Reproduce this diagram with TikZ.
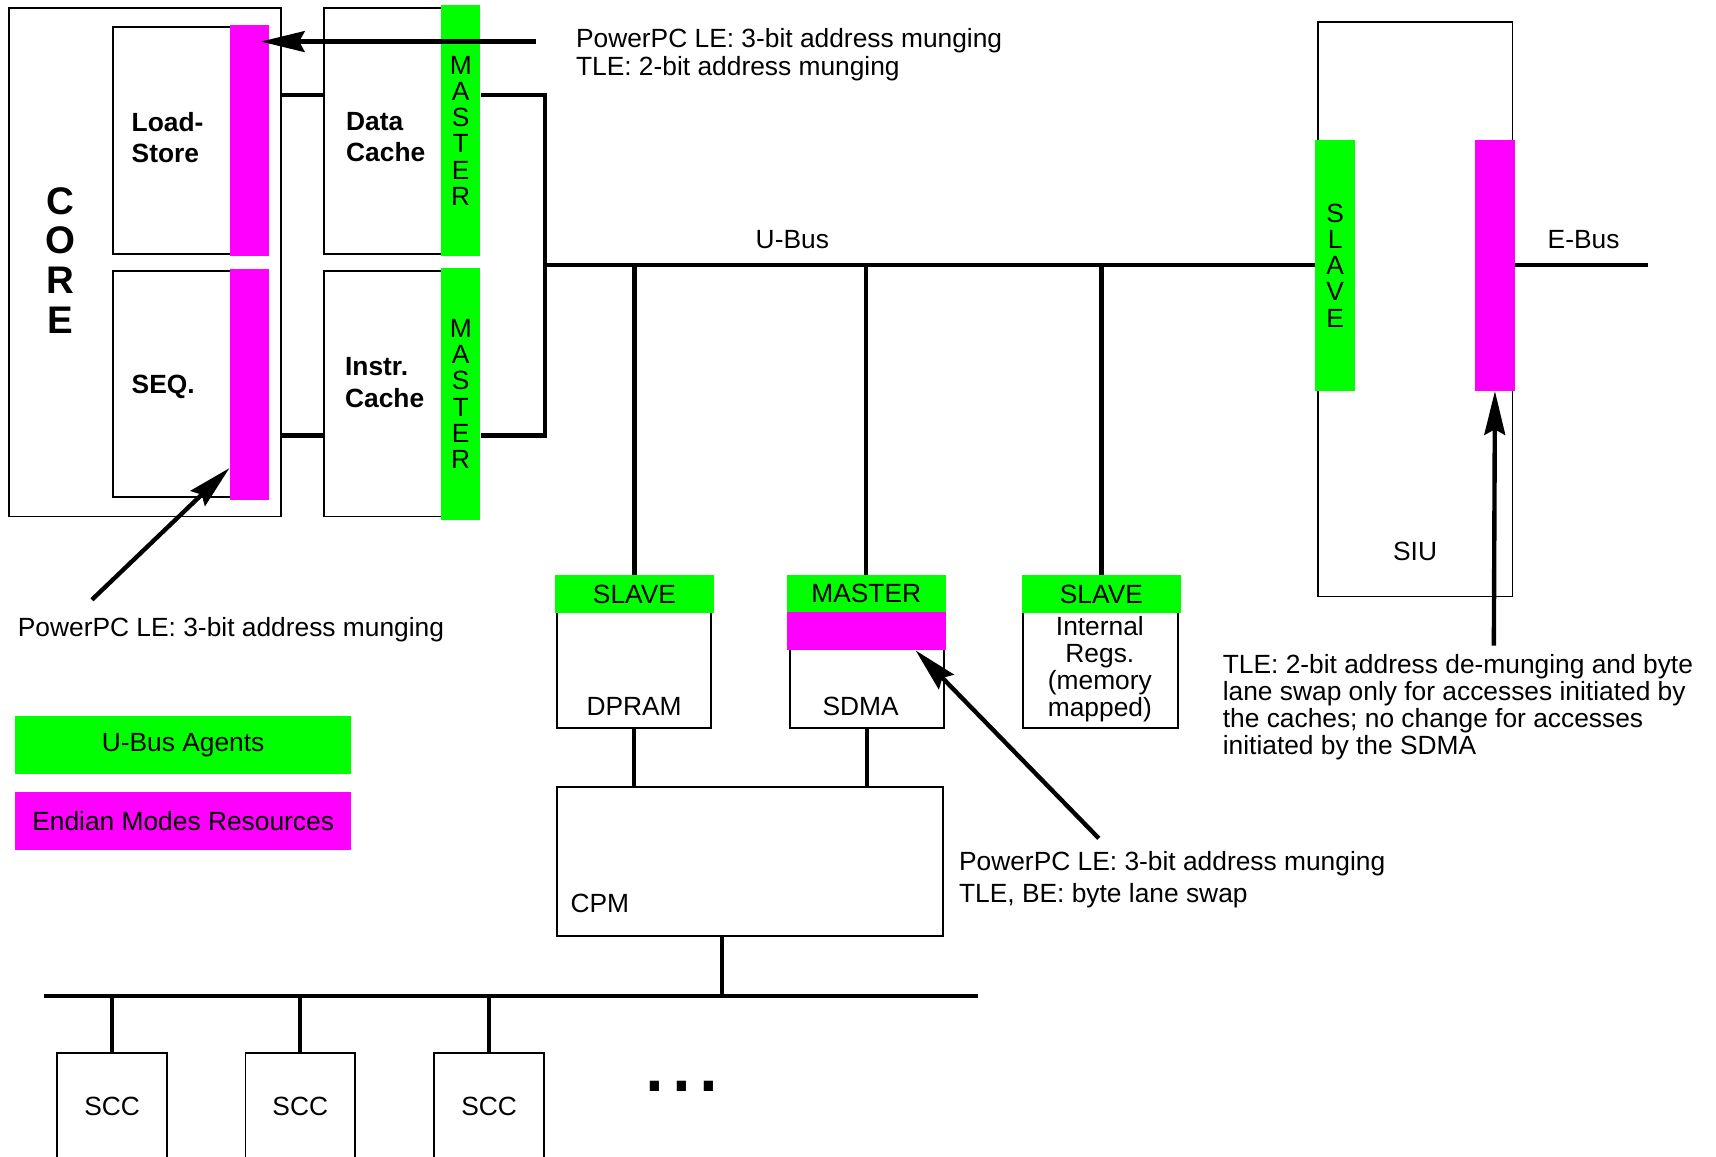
\documentclass[tikz,border=0pt]{standalone}
\usepackage{fontspec}
\setmainfont{Liberation Sans}
\usetikzlibrary{arrows.meta,fit,calc}
\definecolor{agent}{HTML}{00FF00}
\definecolor{endian}{HTML}{FF00FF}
\newcommand{\lblfont}{\fontsize{13.7pt}{5mm}\selectfont}

\begin{document}
\begin{tikzpicture}[
  x=0.2mm, y=-0.2mm,
  blk/.style={draw, line width=0.34mm, inner sep=0pt},
  agentbar/.style={fill=agent, inner sep=0pt},
  endianbar/.style={fill=endian, inner sep=0pt},
  mid/.style={font=\lblfont},
  vtxt/.style={align=center, font=\fontsize{13.7pt}{4.8mm}\selectfont},
  bus/.style={line width=0.8mm},
  arr/.style={line width=0.8mm, -{Stealth[length=8mm, width=3.8mm, inset=1mm]}},
  txt/.style={inner sep=0pt, font=\lblfont, align=left},
  bold/.style={inner sep=0pt, align=left, font=\fontsize{13.7pt}{5.8mm}\selectfont\bfseries},
]
\useasboundingbox (0,0) rectangle (1568,1057);
\clip (0,0) rectangle (1568,1057);
% core with load-store and sequencer
\node[blk, fit={(8,7) (257,472)}] (core) {};
\node[align=center, inner sep=0pt, font=\fontsize{20pt}{7.28mm}\selectfont\bfseries] (coretxt) at (55,238) {C\\O\\R\\E};
\node[blk, fit={(103,25) (228,232)}] (ls) {};
\node[blk, fit={(103,248) (228,454)}] (seq) {};
\node[endianbar, fit={(210,23) (246,234)}] (lsbar) {};
\node[endianbar, fit={(210,246) (246,457)}] (seqbar) {};
\node[bold, anchor=north west] (lstxt) at (120,102) {Load-\\Store};
\node[bold, anchor=north west] (seqtxt) at (120,342.5) {SEQ.};
% caches, both bus masters
\node[blk, fit={(296,7) (420,232)}] (dc) {};
\node[blk, fit={(296,248) (420,472)}] (ic) {};
\node[agentbar, fit={(403,5) (439,234)}, label={[vtxt]center:{M\\A\\S\\T\\E\\R}}] (dcm) {};
\node[agentbar, fit={(403,245) (439,475)}, label={[vtxt]center:{M\\A\\S\\T\\E\\R}}] (icm) {};
\node[bold, anchor=north west] (dctxt) at (316,102) {Data\\Cache};
\node[bold, anchor=north west] (ictxt) at (315,326) {Instr.\\Cache};
\coordinate (rt) at (498,87);
\coordinate (rb) at (498,398);
\coordinate (ub) at (498,242);
\draw[bus] (core.east |- rt) -- (dc.west |- rt);
\draw[bus] (core.east |- rb) -- (ic.west |- rb);
\draw[bus] (dcm.east |- rt) -- (rt) -- (rb) -- (icm.east |- rb);
% SIU and the two buses
\node[blk, fit={(1204,20) (1382,545)}] (siu) {};
\node[agentbar, fit={(1202,128) (1238,357)}, label={[vtxt]center:{S\\L\\A\\V\\E}}] (siuslv) {};
\node[endianbar, fit={(1348,128) (1384,357)}] (siuend) {};
\node[txt, anchor=north] (siutxt) at (1293,495) {SIU};
\coordinate (eb) at (1506,242);
\draw[bus] (ub) -- (siuslv.west |- ub);
\draw[bus] (siuend.east |- eb) -- (eb);
\node[txt, anchor=north] (ubtxt) at (724,210) {U-Bus};
\node[txt, anchor=north] (ebtxt) at (1447,210) {E-Bus};
% agents hanging off the U-Bus
\node[blk, fit={(509,556) (650,665)}] (dpram) {};
\node[agentbar, fit={(507,525.5) (652.5,560)}, label={[mid]center:SLAVE}] (dpslv) {};
\node[blk, fit={(722,590) (862.5,665)}] (sdma) {};
\node[agentbar, fit={(719,525.5) (864,559)}, label={[mid]center:MASTER}] (sdmam) {};
\node[endianbar, fit={(719,559) (864,594)}] (sdmaend) {};
\node[blk, fit={(935,556) (1076.5,665)}] (ir) {};
\node[agentbar, fit={(933.6,525.5) (1079.2,560)}, label={[mid]center:SLAVE}] (irslv) {};
\node[txt, anchor=north] (dptxt) at (579.4,637) {DPRAM};
\node[txt, anchor=north] (sdtxt) at (786.4,637) {SDMA};
\node[txt, align=center, anchor=north, font=\fontsize{13.7pt}{4.9mm}\selectfont] (irtxt) at (1005,563) {Internal\\Regs.\\(memory\\mapped)};
\draw[bus] (dpslv.north |- ub) -- (dpslv.north);
\draw[bus] (sdmam.north |- ub) -- (sdmam.north);
\draw[bus] (irslv.north |- ub) -- (irslv.north);
% CPM and serial channels
\node[blk, fit={(508.6,718.8) (861.8,855)}] (cpm) {};
\node[txt, anchor=north west] (cpmtxt) at (521,816.5) {CPM};
\draw[bus] (dpram.south) -- (dpram.south |- cpm.north);
\draw[bus] (sdma.south) -- (sdma.south |- cpm.north);
\coordinate (sbl) at (40,910);
\coordinate (sbr) at (894,910);
\coordinate (sbt) at (660,910);
\draw[bus] (sbl) -- (sbr);
\draw[bus] (cpm.south -| sbt) -- (sbt);
\foreach \i/\x in {1/52.4, 2/224.3, 3/396.8} {
  \node[blk, fit={(\x,962) (\x+100.2,1062)}] (scc\i) {};
  \node[txt, anchor=north] (scctxt\i) at (\x+50.1,1002) {SCC};
  \draw[bus] (scc\i.north |- sbl) -- (scc\i.north);
}
\node[anchor=base west, inner sep=0pt, font=\fontsize{50pt}{50pt}\selectfont] (dots) at (586,997) {...};
% legend
\node[agentbar, fit={(13.7,654) (321,707)}, label={[mid]center:U-Bus Agents}] (lgag) {};
\node[endianbar, fit={(13.7,723.5) (321,776.5)}, label={[mid]center:Endian Modes Resources}] (lgen) {};
% notes on the endian resources
\node[txt, anchor=north west] (n1) at (526,26) {PowerPC LE: 3-bit address munging\\TLE: 2-bit address munging};
\coordinate (a1) at (490,38);
\draw[arr, shorten >=-1.6mm] (a1) -- (lsbar.east |- a1);
\node[txt, anchor=north west] (n2) at (16,564) {PowerPC LE: 3-bit address munging};
\coordinate (a2) at (84,548);
\draw[arr] (a2) -- ($(seqbar.south west)!0.14!(seqbar.north west)$);
\node[txt, anchor=north west, font=\fontsize{13.7pt}{5.74mm}\selectfont] (n3) at (876,778) {PowerPC LE: 3-bit address munging\\TLE, BE: byte lane swap};
\coordinate (a3) at (1004,766);
\draw[arr] (a3) -- ($(sdmaend.south west)!0.81!(sdmaend.south east)$);
\node[txt, anchor=north west, font=\fontsize{13.7pt}{4.9mm}\selectfont] (n4) at (1117,598) {TLE: 2-bit address de-munging and byte\\lane swap only for accesses initiated by\\the caches; no change for accesses\\initiated by the SDMA};
\coordinate (a4) at (1365,590);
\draw[arr] (a4) -- (siuend.south);
\end{tikzpicture}
\end{document}
